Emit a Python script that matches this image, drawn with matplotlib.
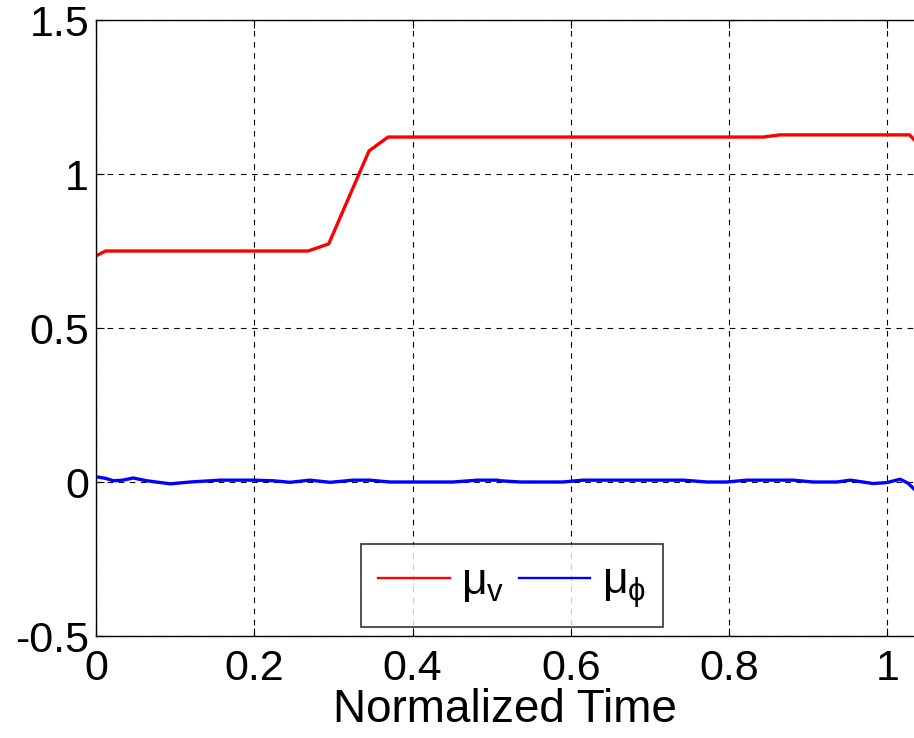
import matplotlib
matplotlib.use("Agg")
import matplotlib.pyplot as plt
import numpy as np

plt.rcParams['font.family'] = ['Liberation Sans', 'DejaVu Sans']
plt.rcParams['mathtext.fontset'] = 'custom'
plt.rcParams['mathtext.rm'] = 'Liberation Sans'
plt.rcParams['mathtext.it'] = 'Liberation Sans'

# red curve: mu_v
t_v = [0.0, 0.012, 0.268, 0.294, 0.345, 0.369, 0.843, 0.864, 1.028, 1.034]
mu_v = [0.734, 0.75, 0.75, 0.773, 1.075, 1.12, 1.12, 1.127, 1.127, 1.11]

# blue curve: mu_phi
t_p = [0.0, 0.012, 0.022, 0.034, 0.047, 0.064, 0.094, 0.119, 0.157, 0.198,
       0.224, 0.245, 0.270, 0.296, 0.325, 0.346, 0.371, 0.451, 0.482, 0.507,
       0.511, 0.536, 0.590, 0.615, 0.742, 0.772, 0.797, 0.822, 0.881, 0.906,
       0.936, 0.953, 0.982, 0.999, 1.016, 1.026, 1.034]
mu_p = [0.017, 0.012, 0.004, 0.006, 0.013, 0.004, -0.006, 0.0, 0.006, 0.006,
        0.004, -0.001, 0.006, -0.001, 0.006, 0.006, 0.0, 0.0, 0.006, 0.006,
        0.004, 0.0, 0.0, 0.006, 0.006, 0.0, 0.0, 0.006, 0.006, 0.0,
        0.0, 0.006, -0.005, -0.002, 0.009, -0.004, -0.024]

xticks = [0, 0.2, 0.4, 0.6, 0.8, 1]
xtick_labels = ['0', '0.2', '0.4', '0.6', '0.8', '1']
yticks = [-0.5, 0, 0.5, 1, 1.5]
ytick_labels = ['-0.5', '0', '0.5', '1', '1.5']

fig = plt.figure(figsize=(9.14, 7.38), dpi=100)
ax = fig.add_axes([96/914, 1-636/738, 1-96/914, (636-20)/738])

ax.plot(t_v, mu_v, color='#ff0000', lw=2.4, label=r'$\mu_{\mathrm{v}}$')
ax.plot(t_p, mu_p, color='#0000ff', lw=2.4, label=r'$\mu_{\phi}$')

ax.set_xlim(0, 1.0335)
ax.set_ylim(-0.5, 1.5)
ax.set_xticks(xticks)
ax.set_xticklabels(xtick_labels)
ax.set_yticks(yticks)
ax.set_yticklabels(ytick_labels)
ax.tick_params(direction='in', labelsize=31, length=6, top=True)
ax.tick_params(axis='x', pad=9)
ax.tick_params(axis='y', pad=5)
ax.grid(True, color='k', linestyle=(0, (5, 5)), linewidth=0.8)
ax.spines['right'].set_visible(False)
for s in ['left', 'bottom', 'top']:
    ax.spines[s].set_linewidth(1.0)

ax.set_xlabel('Normalized Time', fontsize=33, labelpad=0)

leg = ax.legend(loc='lower center', bbox_to_anchor=(0.5085, 0.0145), ncol=2,
                fontsize=32, frameon=True, fancybox=False, edgecolor='k',
                handlelength=1.6, columnspacing=0.35,
                handletextpad=0.25, borderpad=0.39, borderaxespad=0)
leg.get_frame().set_linewidth(1.2)
for h in leg.legend_handles:
    h.set_linewidth(1.7)

fig.savefig('out.png', dpi=100)
